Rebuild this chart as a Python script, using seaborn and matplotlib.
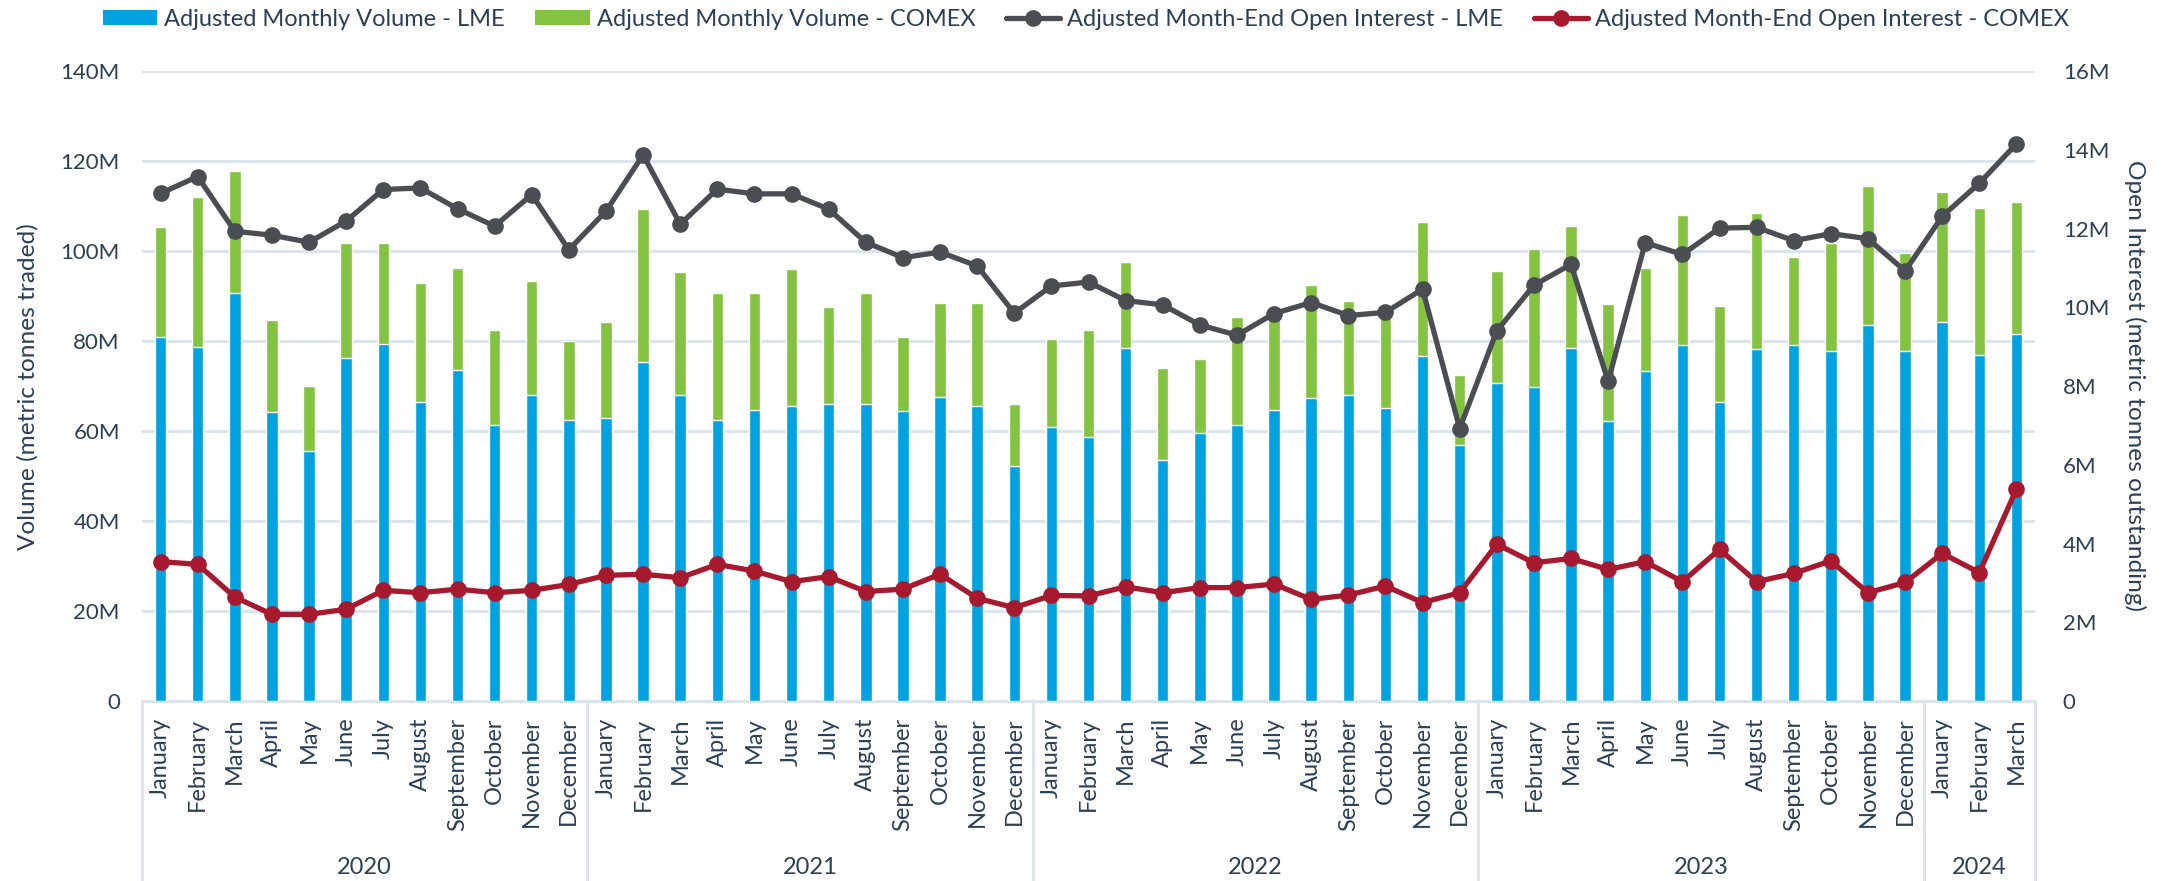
import numpy as np
import pandas as pd
import matplotlib
matplotlib.use("Agg")
import matplotlib.pyplot as plt
import matplotlib.transforms as mtransforms
from matplotlib.patches import Patch
from matplotlib.lines import Line2D
from matplotlib.ticker import FuncFormatter, MultipleLocator
import seaborn as sns

# ---------------- data (millions of metric tonnes) ----------------
years = ["2020", "2021", "2022", "2023", "2024"]
months_per_year = [12, 12, 12, 12, 3]
month_names = ["January", "February", "March", "April", "May", "June", "July",
               "August", "September", "October", "November", "December"]

lme_volume = [80.9, 78.7, 90.7, 64.2, 55.6, 76.2, 79.3, 66.4, 73.6, 61.3, 67.9, 62.4,
              62.9, 75.3, 68.0, 62.4, 64.7, 65.6, 66.0, 66.1, 64.4, 67.6, 65.6, 52.2,
              60.9, 58.7, 78.4, 53.6, 59.6, 61.3, 64.7, 67.3, 68.0, 65.1, 76.6, 56.8,
              70.7, 69.7, 78.4, 62.2, 73.3, 79.1, 66.4, 78.3, 79.1, 77.8, 83.6, 77.8,
              84.3, 76.9, 81.5]
comex_volume = [24.4, 33.2, 27.0, 20.4, 14.3, 25.5, 22.4, 26.6, 22.7, 21.1, 25.4, 17.7,
                21.4, 34.1, 27.3, 28.3, 25.9, 30.3, 21.5, 24.6, 16.6, 20.8, 22.9, 13.7,
                19.5, 23.8, 19.1, 20.5, 16.3, 24.0, 21.3, 25.1, 21.0, 21.1, 29.8, 15.6,
                24.9, 30.7, 27.1, 26.1, 22.9, 28.8, 21.3, 30.1, 19.5, 23.9, 30.9, 21.7,
                28.8, 32.6, 29.5]
lme_oi = [12.89, 13.32, 11.93, 11.83, 11.65, 12.19, 12.99, 13.03, 12.50, 12.06, 12.86, 11.46,
          12.44, 13.87, 12.11, 13.00, 12.88, 12.88, 12.49, 11.65, 11.26, 11.40, 11.05, 9.85,
          10.54, 10.64, 10.17, 10.06, 9.55, 9.29, 9.84, 10.12, 9.79, 9.87, 10.46, 6.92,
          9.40, 10.56, 11.09, 8.12, 11.64, 11.34, 12.01, 12.03, 11.69, 11.87, 11.74, 10.92,
          12.31, 13.15, 14.15]
comex_oi = [3.54, 3.47, 2.64, 2.20, 2.20, 2.33, 2.81, 2.75, 2.84, 2.75, 2.81, 2.96,
            3.19, 3.22, 3.13, 3.47, 3.30, 3.03, 3.16, 2.78, 2.84, 3.22, 2.61, 2.37,
            2.68, 2.67, 2.90, 2.75, 2.88, 2.88, 2.97, 2.58, 2.69, 2.92, 2.50, 2.75,
            3.98, 3.51, 3.62, 3.34, 3.54, 3.03, 3.85, 3.03, 3.24, 3.56, 2.75, 3.01,
            3.75, 3.26, 5.38]

labels = []
year_of = []
for y, n in zip(years, months_per_year):
    labels += month_names[:n]
    year_of += [y] * n

df = pd.DataFrame({
    "idx": np.arange(len(labels)),
    "month": labels,
    "year": year_of,
    "lme_vol": lme_volume,
    "comex_vol": comex_volume,
    "lme_oi": lme_oi,
    "comex_oi": comex_oi,
})
df["total_vol"] = df["lme_vol"] + df["comex_vol"]

# ---------------- style ----------------
sns.set_theme(style="white")
plt.rcParams["font.family"] = ["Lato", "DejaVu Sans"]
TXT = "#2B3F57"
GRID = "#DCE5EE"
BLUE = "#00A3E0"
GREEN = "#84C341"
GREY = "#4A4D52"
RED = "#A6192E"

W, H = 2165, 881
fig = plt.figure(figsize=(W / 100, H / 100), dpi=100)
ax = fig.add_axes([142 / W, 1 - 701 / H, (2035 - 142) / W, (701 - 71) / H])
ax2 = ax.twinx()

# bars: total (green) behind, LME (blue) in front -> stacked look
sns.barplot(data=df, x="idx", y="total_vol", color=GREEN, width=0.31,
            saturation=1, ax=ax, zorder=2)
sns.barplot(data=df, x="idx", y="lme_vol", color=BLUE, width=0.31,
            saturation=1, ax=ax, zorder=3)

# lines on secondary axis
sns.lineplot(data=df, x="idx", y="lme_oi", color=GREY, lw=3.8, marker="o",
             markersize=12, markeredgewidth=0, ax=ax2, zorder=4)
sns.lineplot(data=df, x="idx", y="comex_oi", color=RED, lw=3.8, marker="o",
             markersize=12, markeredgewidth=0, ax=ax2, zorder=4)

n = len(df)
for a in (ax, ax2):
    a.set_xlim(-0.5, n - 0.5)
    for s in a.spines.values():
        s.set_visible(False)
    a.set_xlabel("")
    a.set_ylabel("")

ax.set_ylim(0, 140)
ax2.set_ylim(0, 16)
ax.yaxis.set_major_locator(MultipleLocator(20))
ax2.yaxis.set_major_locator(MultipleLocator(2))
fmt = FuncFormatter(lambda v, p: "0" if abs(v) < 1e-9 else f"{v:.0f}M")
ax.yaxis.set_major_formatter(fmt)
ax2.yaxis.set_major_formatter(fmt)
ax.grid(axis="y", color=GRID, lw=2.2, zorder=0)
ax.set_axisbelow(True)
ax2.grid(False)

ax.tick_params(axis="y", length=0, pad=16, labelsize=16, labelcolor=TXT)
ax2.tick_params(axis="y", length=0, pad=20, labelsize=16, labelcolor=TXT)

ax.set_xticks(df["idx"])
ax.set_xticklabels(df["month"], rotation=90, va="top", ha="center")
ax.tick_params(axis="x", length=0, pad=12, labelsize=17, labelcolor=TXT)

# bottom axis line
ax.spines["bottom"].set_visible(True)
ax.spines["bottom"].set_color(GRID)
ax.spines["bottom"].set_linewidth(2.2)

# year groups: separators and labels
trans = mtransforms.blended_transform_factory(ax.transData, ax.transAxes)
y_bottom = -(881 - 701) / (701 - 71)
starts = np.cumsum([0] + months_per_year)
for i, y in enumerate(years):
    x0 = starts[i] - 0.5
    x1 = starts[i + 1] - 0.5
    ax.text((x0 + x1) / 2, -(867 - 701) / (701 - 71), y, transform=trans,
            ha="center", va="center", fontsize=17, color=TXT)
for b in starts:
    ax.plot([b - 0.5, b - 0.5], [0, y_bottom], transform=trans, color=GRID,
            lw=2.2, clip_on=False)

# axis titles
fig.text(28 / W, 1 - 387 / H, "Volume (metric tonnes traded)", rotation=90,
         ha="center", va="center", fontsize=17.6, color=TXT)
fig.text(2135 / W, 1 - 386 / H, "Open Interest (metric tonnes outstanding)",
         rotation=-90, ha="center", va="center", fontsize=17.6, color=TXT)

# legend
handles = [
    Patch(facecolor=BLUE, edgecolor="none"),
    Patch(facecolor=GREEN, edgecolor="none"),
    Line2D([], [], color=GREY, lw=3.8, marker="o", markersize=12, markeredgewidth=0),
    Line2D([], [], color=RED, lw=3.8, marker="o", markersize=12, markeredgewidth=0),
]
names = ["Adjusted Monthly Volume - LME", "Adjusted Monthly Volume - COMEX",
         "Adjusted Month-End Open Interest - LME",
         "Adjusted Month-End Open Interest - COMEX"]
fig.legend(handles, names, loc="center", bbox_to_anchor=(1086 / W, 1 - 19 / H),
           ncol=4, frameon=False, fontsize=17, labelcolor=TXT,
           handlelength=2.3, handleheight=0.6, handletextpad=0.3,
           columnspacing=1.3, borderaxespad=0, borderpad=0)

fig.savefig("out.png", dpi=100)
